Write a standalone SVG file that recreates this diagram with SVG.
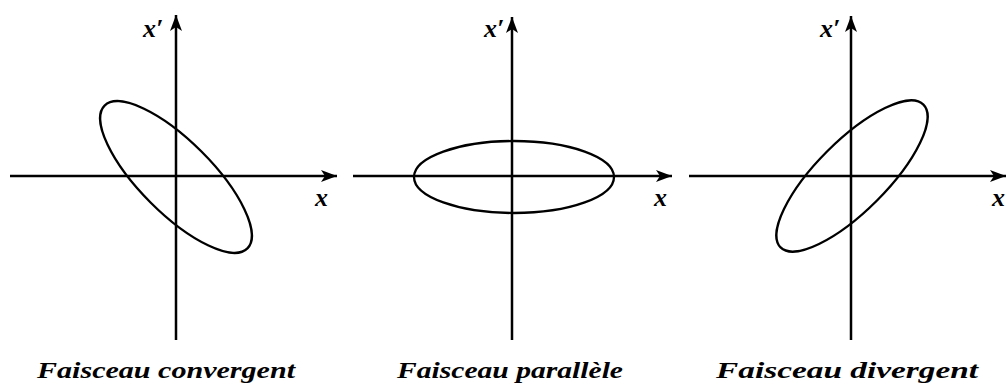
<svg xmlns="http://www.w3.org/2000/svg" width="1006" height="386" viewBox="0 0 1006 386">
<style>
.axis{stroke:#000;stroke-width:2.5;fill:none}
.ell{stroke:#000;stroke-width:2.3;fill:none}
.lbl{font-family:"Liberation Serif","DejaVu Serif",serif;font-weight:bold;font-style:italic;fill:#000}
.cap{font-size:24px;text-anchor:middle}
.ax{font-size:26px}
</style>
<defs>
<marker id="arr" markerUnits="userSpaceOnUse" markerWidth="18" markerHeight="14" refX="16" refY="6" orient="auto">
<path d="M0,0 L16,6 L0,12 L4,6 Z" fill="#000"/>
</marker>
</defs>
<g id="connectors">
<line class="axis" x1="10" y1="176" x2="337" y2="176" marker-end="url(#arr)"/>
<line class="axis" x1="176" y1="340" x2="176" y2="15" marker-end="url(#arr)"/>
<line class="axis" x1="353" y1="176" x2="672" y2="176" marker-end="url(#arr)"/>
<line class="axis" x1="512" y1="340" x2="512" y2="17" marker-end="url(#arr)"/>
<line class="axis" x1="689" y1="176" x2="1006" y2="176" marker-end="url(#arr)"/>
<line class="axis" x1="851" y1="340" x2="851" y2="16" marker-end="url(#arr)"/>
</g>
<g id="convergent">
<ellipse class="ell" cx="176" cy="177" rx="101" ry="36" transform="rotate(45 176 177)"/>
<text class="lbl ax" x="143" y="37">x′</text>
<text class="lbl ax" x="315" y="206">x</text>
<text class="lbl cap" x="166" y="378" textLength="258" lengthAdjust="spacingAndGlyphs">Faisceau convergent</text>
</g>
<g id="parallele">
<ellipse class="ell" cx="514" cy="177" rx="100" ry="36"/>
<text class="lbl ax" x="484" y="37">x′</text>
<text class="lbl ax" x="654" y="206">x</text>
<text class="lbl cap" x="510" y="378" textLength="226" lengthAdjust="spacingAndGlyphs">Faisceau parallèle</text>
</g>
<g id="divergent">
<ellipse class="ell" cx="852" cy="176" rx="101" ry="35" transform="rotate(-45 852 176)"/>
<text class="lbl ax" x="820" y="37">x′</text>
<text class="lbl ax" x="992" y="206">x</text>
<text class="lbl cap" x="847" y="378" textLength="262" lengthAdjust="spacingAndGlyphs">Faisceau divergent</text>
</g>
</svg>
